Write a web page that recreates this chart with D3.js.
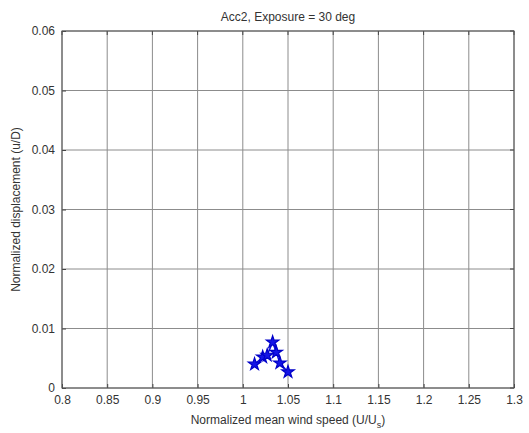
<!DOCTYPE html>
<html>
<head>
<meta charset="utf-8">
<script src="https://cdn.jsdelivr.net/npm/d3@7"></script>
<style>
  body { margin: 0; background: #fff; }
  svg text { font-family: "Liberation Sans", Arial, sans-serif; fill: #333; }
</style>
</head>
<body>
<div id="chart"></div>
<script>
// data
const windSpeed = [1.013, 1.022, 1.027, 1.033, 1.037, 1.041, 1.050];
const displacement = [0.0040, 0.0052, 0.0055, 0.0077, 0.0060, 0.0042, 0.0027];
const xTicks = [0.8, 0.85, 0.9, 0.95, 1, 1.05, 1.1, 1.15, 1.2, 1.25, 1.3];
const yTicks = [0, 0.01, 0.02, 0.03, 0.04, 0.05, 0.06];

const width = 529, height = 433;
const margin = {t: 31, r: 15, b: 45, l: 62};
const w = width - margin.l - margin.r;
const h = height - margin.t - margin.b;

const svg = d3.select('#chart').append('svg')
    .attr('width', width)
    .attr('height', height);

const plot = svg.append('g')
    .attr('transform', `translate(${margin.l},${margin.t})`);

const scaleX = d3.scaleLinear().domain([0.8, 1.3]).range([0, w]);
const scaleY = d3.scaleLinear().domain([0, 0.06]).range([h, 0]);

// grid
plot.selectAll('.gx').data(xTicks).enter().append('line')
    .attr('x1', d => scaleX(d)).attr('x2', d => scaleX(d))
    .attr('y1', 0).attr('y2', h)
    .attr('stroke', '#8c8c8c').attr('stroke-width', 1);
plot.selectAll('.gy').data(yTicks).enter().append('line')
    .attr('y1', d => scaleY(d)).attr('y2', d => scaleY(d))
    .attr('x1', 0).attr('x2', w)
    .attr('stroke', '#8c8c8c').attr('stroke-width', 1);

// axes
const axisX = d3.axisBottom(scaleX).tickValues(xTicks).tickSize(4).tickPadding(3)
    .tickFormat(d => String(d));
const axisY = d3.axisLeft(scaleY).tickValues(yTicks).tickSize(4).tickPadding(3)
    .tickFormat(d => String(d));

const gx = plot.append('g').attr('transform', `translate(0,${h})`).call(axisX);
const gy = plot.append('g').call(axisY);
[gx, gy].forEach(g => {
    g.select('.domain').remove();
    g.selectAll('line').attr('stroke', '#444');
    g.selectAll('text').style('font-size', '12px');
});
// ticks point inward
gx.selectAll('.tick line').attr('y2', -4);
gy.selectAll('.tick line').attr('x2', 4);

// top/right mirror ticks
plot.selectAll('.tt').data(xTicks).enter().append('line')
    .attr('x1', d => scaleX(d)).attr('x2', d => scaleX(d))
    .attr('y1', 0).attr('y2', 4).attr('stroke', '#444');
plot.selectAll('.tr').data(yTicks).enter().append('line')
    .attr('y1', d => scaleY(d)).attr('y2', d => scaleY(d))
    .attr('x1', w).attr('x2', w - 4).attr('stroke', '#444');

// box
plot.append('rect')
    .attr('width', w).attr('height', h)
    .attr('fill', 'none').attr('stroke', '#555').attr('stroke-width', 1);

// series
const pts = windSpeed.map((x, i) => ({x: x, y: displacement[i]}));
plot.append('path')
    .datum(pts)
    .attr('fill', 'none')
    .attr('stroke', '#1010e0')
    .attr('stroke-width', 1.5)
    .attr('d', d3.line().x(d => scaleX(d.x)).y(d => scaleY(d.y)));

const hexagram = d3.symbol().type(d3.symbolStar).size(48);
plot.selectAll('.pt').data(pts).enter().append('path')
    .attr('transform', d => `translate(${scaleX(d.x)},${scaleY(d.y)})`)
    .attr('d', hexagram)
    .attr('fill', '#1414e6')
    .attr('stroke', '#0000c8')
    .attr('stroke-width', 1.2);

// labels
svg.append('text')
    .attr('x', margin.l + w / 2).attr('y', 21)
    .attr('text-anchor', 'middle')
    .style('font-size', '12px')
    .text('Acc2, Exposure = 30 deg');

const xl = svg.append('text')
    .attr('x', margin.l + w / 2).attr('y', 424)
    .attr('text-anchor', 'middle')
    .style('font-size', '12px');
xl.append('tspan').text('Normalized mean wind speed (U/U');
xl.append('tspan').attr('dy', 4).style('font-size', '9px').text('s');
xl.append('tspan').attr('dy', -4).text(')');

svg.append('text')
    .attr('transform', `translate(20,${margin.t + h / 2}) rotate(-90)`)
    .attr('text-anchor', 'middle')
    .style('font-size', '12px')
    .text('Normalized displacement (u/D)');
</script>
</body>
</html>
